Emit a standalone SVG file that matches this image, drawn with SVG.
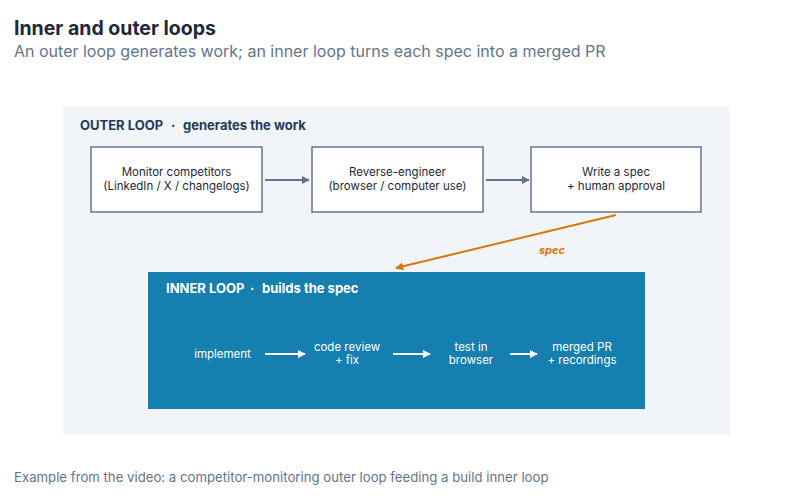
<svg xmlns="http://www.w3.org/2000/svg" width="800" height="500" viewBox="0 0 800 500">
<defs>
<style>
text{font-family:Inter,"Liberation Sans",sans-serif}
.title{font-size:19.5px;font-weight:700;fill:#1e293b}
.sub{font-size:16px;fill:#64748b}
.foot{font-size:13.2px;fill:#64748b}
.hdr{font-size:13px;font-weight:700;fill:#1e3a5f}
.ihdr{font-size:13px;font-weight:700;fill:#ffffff}
.box{fill:#ffffff;stroke:#64748b;stroke-width:1.5}
.bt{font-size:11.5px;fill:#1e293b;text-anchor:middle}
.it{font-size:11.5px;fill:#ffffff;text-anchor:middle}
.ga{stroke:#64748b;stroke-width:2;fill:none}
.wa{stroke:#ffffff;stroke-width:2;fill:none}
</style>
<marker id="mg" viewBox="0 0 10 10" refX="9" refY="5" markerWidth="4" markerHeight="4" orient="auto" markerUnits="strokeWidth"><path d="M0,0L10,5L0,10z" fill="#64748b"/></marker>
<marker id="mw" viewBox="0 0 10 10" refX="9" refY="5" markerWidth="4" markerHeight="4" orient="auto" markerUnits="strokeWidth"><path d="M0,0L10,5L0,10z" fill="#ffffff"/></marker>
<marker id="mo" viewBox="0 0 10 10" refX="9" refY="5" markerWidth="4" markerHeight="4" orient="auto" markerUnits="strokeWidth"><path d="M0,0L10,5L0,10z" fill="#d97706"/></marker>
</defs>
<rect width="800" height="500" fill="#ffffff"/>
<text class="title" x="14" y="35">Inner and outer loops</text>
<text class="sub" x="14" y="57">An outer loop generates work; an inner loop turns each spec into a merged PR</text>
<g id="outer">
<rect x="63" y="106" width="667" height="329" fill="#f1f5f9"/>
<text class="hdr" y="130"><tspan x="80">OUTER LOOP</tspan><tspan x="171">·</tspan><tspan x="183">generates the work</tspan></text>
</g>
<g id="monitor">
<rect class="box" x="91" y="147" width="171" height="65"/>
<text class="bt" x="176.5" y="176">Monitor competitors</text>
<text class="bt" x="176.5" y="190">(LinkedIn / X / changelogs)</text>
</g>
<g id="reverse">
<rect class="box" x="312" y="147" width="171" height="65"/>
<text class="bt" x="397.5" y="176">Reverse-engineer</text>
<text class="bt" x="397.5" y="190">(browser / computer use)</text>
</g>
<g id="spec">
<rect class="box" x="531" y="147" width="170" height="65"/>
<text class="bt" x="616" y="176">Write a spec</text>
<text class="bt" x="616" y="190">+ human approval</text>
</g>
<g id="inner">
<rect x="148" y="272" width="497" height="137" fill="#157fb0"/>
<text class="ihdr" y="293"><tspan x="166">INNER LOOP</tspan><tspan x="250">·</tspan><tspan x="262">builds the spec</tspan></text>
</g>
<g id="implement"><text class="it" x="222.5" y="358">implement</text></g>
<g id="review"><text class="it" x="347" y="351">code review</text><text class="it" x="347" y="364">+ fix</text></g>
<g id="test"><text class="it" x="471" y="351">test in</text><text class="it" x="471" y="364">browser</text></g>
<g id="merged"><text class="it" x="582" y="351">merged PR</text><text class="it" x="582" y="364">+ recordings</text></g>
<g id="connectors">
<line class="ga" x1="265" y1="180" x2="309" y2="180" marker-end="url(#mg)"/>
<line class="ga" x1="486" y1="180" x2="529" y2="180" marker-end="url(#mg)"/>
<line x1="616" y1="215" x2="396" y2="268" stroke="#d97706" stroke-width="2" marker-end="url(#mo)"/>
<text x="552" y="254" font-size="11" font-weight="700" font-style="italic" fill="#d97706" text-anchor="middle">spec</text>
<line class="wa" x1="265" y1="354" x2="305" y2="354" marker-end="url(#mw)"/>
<line class="wa" x1="393" y1="354" x2="430" y2="354" marker-end="url(#mw)"/>
<line class="wa" x1="510" y1="354" x2="537" y2="354" marker-end="url(#mw)"/>
</g>
<text class="foot" x="14" y="482">Example from the video: a competitor-monitoring outer loop feeding a build inner loop</text>
</svg>
